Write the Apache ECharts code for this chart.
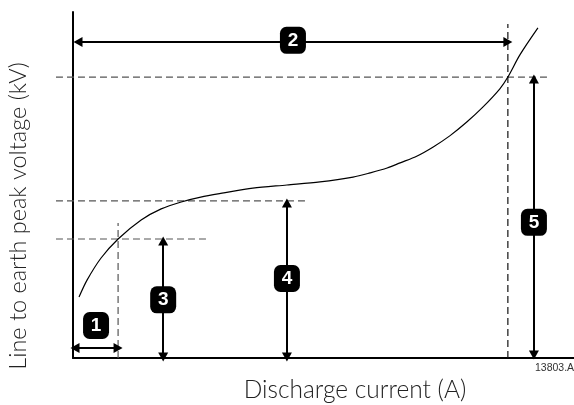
<!DOCTYPE html>
<html>
<head>
<meta charset="utf-8">
<script src="https://cdn.jsdelivr.net/npm/echarts@6/dist/echarts.min.js"></script>
<style>
  html, body { margin: 0; padding: 0; background: #fff; }
  #chart { width: 574px; height: 405px; }
</style>
</head>
<body>
<div id="chart"></div>
<script>
// Voltage–current characteristic of a surge arrester (schematic units, 0–100 on both axes)
const currentPts = [1.2, 2.8, 5.6, 9.0, 13.6, 17.6, 21.6, 25.5, 30.1, 35.9, 42.7, 49.3, 55.9,
                    59.3, 62.7, 65.3, 68.7, 71.9, 75.2, 78.6, 81.8, 85.2, 86.8, 89.2, 92.8];
const voltagePts = [17.6, 22.5, 28.9, 34.4, 39.9, 43.1, 45.1, 46.5, 47.7, 49.1, 50.0, 50.9, 52.3,
                    53.5, 54.9, 56.4, 58.4, 61.0, 64.2, 68.2, 72.5, 77.8, 81.2, 87.6, 95.4];

// Reference levels
const guideStart = -3.4;                  // dashed guides start left of the axis
const levelValues = [34.4, 45.4, 81.2];   // continuous, rated, protection level
const levelEnds = [26.9, 46.3, 95.2];
const currentMarks = [9.0, 86.8];         // discharge currents with dashed verticals
const currentMarkTops = [39.0, 96.5];

// Dimension arrows: [x1, y1, x2, y2]
const arrows = [
  [0.4, 2.9, 9.0, 2.9],
  [1.0, 91.3, 86.8, 91.3],
  [18.0, 0.3, 18.0, 33.8],
  [42.7, 0.3, 42.7, 44.8],
  [92.0, 0.9, 92.0, 80.6]
];

// Numbered callouts: [x, y, label]
const callouts = [
  [4.6, 9.4, '1'],
  [43.9, 91.8, '2'],
  [18.0, 16.8, '3'],
  [42.7, 23.0, '4'],
  [92.0, 39.2, '5']
];

const chart = echarts.init(document.getElementById('chart'), null, { renderer: 'canvas' });

// Plot area: axes start at x = 0; a second, axis-less grid with the same scale
// reaches a little further left so the dashed guides can start before the axis.
const plotLeft = 73, plotTop = 12, plotBottom = 47;
const pxPerUnit = (574 - plotLeft) / 100;

const dash = [7, 4];
const guideSeries = [];
levelValues.forEach((v, i) => {
  guideSeries.push({
    type: 'line', xAxisIndex: 1, yAxisIndex: 1, silent: true, showSymbol: false, z: 1,
    data: [[guideStart, v], [levelEnds[i], v]],
    lineStyle: { color: '#555', width: 1.2, type: dash }
  });
});
currentMarks.forEach((c, i) => {
  guideSeries.push({
    type: 'line', xAxisIndex: 1, yAxisIndex: 1, silent: true, showSymbol: false, z: 1,
    data: [[c, 0], [c, currentMarkTops[i]]],
    lineStyle: { color: i === 0 ? '#555' : '#111', width: 1.2, type: dash }
  });
});

const hiddenAxis = {
  show: false, type: 'value'
};
const baseAxis = {
  type: 'value', min: 0, max: 100,
  axisLine: { show: true, lineStyle: { color: '#000', width: 2 } },
  axisTick: { show: false }, axisLabel: { show: false }, splitLine: { show: false }
};

const option = {
  animation: false,
  backgroundColor: '#fff',
  grid: [
    { left: plotLeft, right: 0, top: plotTop, bottom: plotBottom },
    { left: plotLeft + guideStart * pxPerUnit, right: 0, top: plotTop, bottom: plotBottom }
  ],
  xAxis: [
    Object.assign({ gridIndex: 0 }, baseAxis),
    Object.assign({ gridIndex: 1, min: guideStart, max: 100 }, hiddenAxis)
  ],
  yAxis: [
    Object.assign({ gridIndex: 0 }, baseAxis),
    Object.assign({ gridIndex: 1, min: 0, max: 100 }, hiddenAxis)
  ],
  series: [
    {
      type: 'line', smooth: 0.3, showSymbol: false, silent: true, z: 3,
      data: currentPts.map((x, i) => [x, voltagePts[i]]),
      lineStyle: { color: '#000', width: 1.2 }
    },
    ...guideSeries,
    {
      type: 'line', data: [], silent: true, z: 4,
      markLine: {
        silent: true,
        symbol: ['triangle', 'triangle'],
        symbolSize: [10, 9],
        label: { show: false },
        lineStyle: { color: '#000', width: 2, type: 'solid' },
        emphasis: { disabled: true },
        data: arrows.map(a => [{ coord: [a[0], a[1]] }, { coord: [a[2], a[3]] }])
      }
    },
    {
      type: 'scatter', silent: true, z: 6,
      symbol: 'roundRect', symbolSize: [26, 27],
      itemStyle: { color: '#000', opacity: 1 },
      data: callouts,
      label: {
        show: true, position: 'inside',
        formatter: p => p.value[2],
        color: '#fff', fontSize: 19, fontWeight: 'bold',
        fontFamily: 'Liberation Sans, Arial, sans-serif'
      }
    }
  ],
  graphic: [
    {
      type: 'text', x: 355, y: 390,
      style: {
        text: 'Discharge current (A)', fill: '#222',
        font: '300 24.5px Lato, "Open Sans", sans-serif',
        textAlign: 'center', textVerticalAlign: 'middle'
      }
    },
    {
      type: 'text', x: 18, y: 216, rotation: Math.PI / 2,
      style: {
        text: 'Line to earth peak voltage (kV)', fill: '#222',
        font: '300 23.5px Lato, "Open Sans", sans-serif',
        textAlign: 'center', textVerticalAlign: 'middle'
      }
    },
    {
      type: 'text', x: 535, y: 368,
      style: {
        text: '13803.A', fill: '#333',
        font: '10.5px "Liberation Sans", Arial, sans-serif',
        textAlign: 'left', textVerticalAlign: 'middle'
      }
    }
  ]
};

chart.setOption(option);
</script>
</body>
</html>
